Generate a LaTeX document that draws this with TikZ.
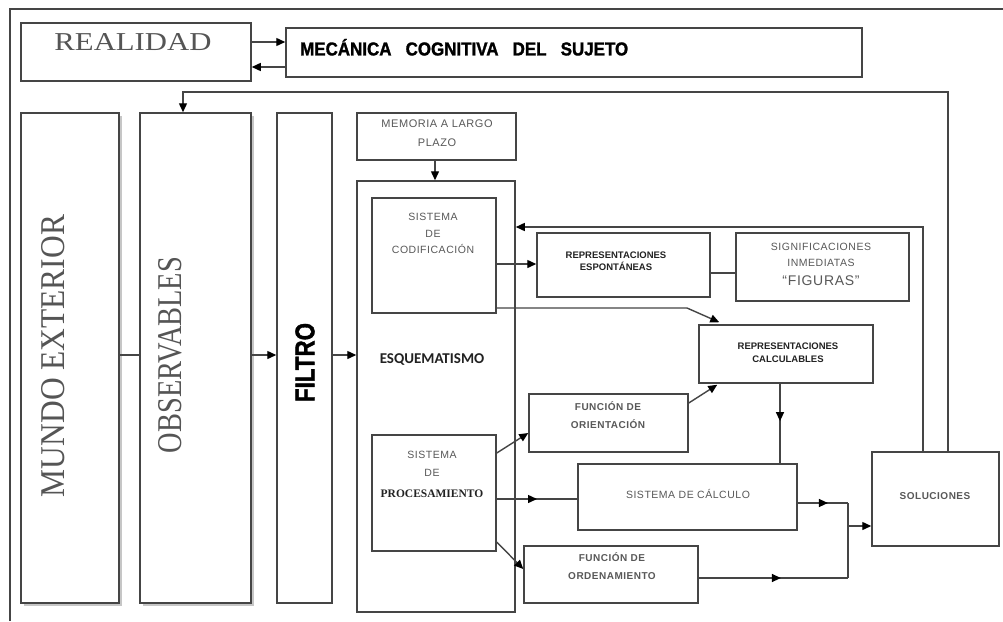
\documentclass[tikz,border=0pt]{standalone}
\usepackage{fontspec}
\usepackage{graphicx}
\setmainfont{Liberation Serif}
\newfontfamily\lab{Liberation Sans}[LetterSpace=5]
\newfontfamily\labn{Liberation Sans}
\newfontfamily\labh{Liberation Sans}[FakeBold=1.5]
\newfontfamily\carl{Carlito}
\usetikzlibrary{arrows.meta,decorations.markings,fit,calc,shadows}
\definecolor{ln}{HTML}{454545}
\definecolor{tx}{HTML}{585858}
\definecolor{dk}{HTML}{222222}
\definecolor{big}{HTML}{555555}
\begin{document}
\begin{tikzpicture}[x=1pt,y=-1pt,
  box/.style={draw=ln, line width=1.5pt, inner sep=0pt, fill=white},
  shbox/.style={box, drop shadow={shadow xshift=2.5pt, shadow yshift=-2.5pt, fill=gray!45, opacity=1}},
  arr/.style={draw=ln, line width=1.4pt, -{Triangle[length=9pt,width=8pt,fill=black,color=black]}},
  con/.style={draw=ln, line width=1.4pt},
  midarr/.style={draw=ln, line width=1.4pt, postaction={decorate},
    decoration={markings, mark=at position #1 with {\arrow{Triangle[length=9pt,width=8pt,fill=black,color=black]}}}},
  midarr/.default=0.55,
  lbl/.style={font=\lab\fontsize{10.5}{16.5}\selectfont, text=tx, align=center, inner sep=0pt},
  lblb/.style={font=\lab\bfseries\fontsize{10}{18}\selectfont, text=tx, align=center, inner sep=0pt},
  lbld/.style={font=\labn\bfseries\fontsize{9.5}{12.5}\selectfont, text=dk, align=center, inner sep=0pt}
]
\useasboundingbox (0,0) rectangle (1003,621);
\fill[white] (0,0) rectangle (1003,621);
% outer frame (top and left edges)
\draw[ln, line width=1.2pt] (10,621) -- (10,9) -- (1003,9);

% boxes
\node[box, fit={(21,23) (251,81)}] (real) {};
\node[box, fit={(286,28) (862,77)}] (mec) {};
\node[shbox, fit={(21,113) (119,603)}] (mundo) {};
\node[shbox, fit={(140,113) (251,603)}] (obs) {};
\node[box, fit={(277,113) (332,603)}] (filtro) {};
\node[box, fit={(357,113) (516,160)}] (mem) {};
\node[box, fit={(357,181) (515,612)}] (esq) {};
\node[box, fit={(372,198) (496,313)}] (cod) {};
\node[box, fit={(537,233) (710,297)}] (repesp) {};
\node[box, fit={(736,233) (909,301)}] (sig) {};
\node[box, fit={(699,325) (873,383)}] (repcalc) {};
\node[box, fit={(529,394) (688,452)}] (orient) {};
\node[box, fit={(372,435) (496,551)}] (proc) {};
\node[box, fit={(578,464) (797,530)}] (calc) {};
\node[box, fit={(524,546) (698,603)}] (orden) {};
\node[box, fit={(872,452) (999,546)}] (sol) {};

% labels
\node[inner sep=0pt, text=big] (realL) at (133,42) {\resizebox{157pt}{17pt}{REALIDAD}};
\node[inner sep=0pt, anchor=west, text=black] (mecL) at (300,49)
  {\resizebox{328pt}{13pt}{\labh\bfseries MEC\smash{Á}NICA\ \ \ COGNITIVA\ \ \ DEL\ \ \ SUJETO}};
\node[inner sep=0pt, rotate=90, text=big] (mundoL) at (53.5,356) {\resizebox{282pt}{23pt}{MUNDO EXTERIOR}};
\node[inner sep=0pt, rotate=90, text=big] (obsL) at (170.5,355) {\resizebox{196pt}{23pt}{OBSERVABLES}};
\node[inner sep=0pt, rotate=90, text=black] (filtroL) at (305,362.5) {\resizebox{79pt}{19pt}{\labh\bfseries FILTRO}};
\node[lbl, font=\lab\fontsize{11}{19}\selectfont] (memL) at (437,133.5) {MEMORIA A LARGO\\PLAZO};
\node[lbl] (codL) at (433,233.5) {SISTEMA\\DE\\CODIFICACIÓN};
\node[lbld] (repespL) at (616,261) {REPRESENTACIONES\\ESPONTÁNEAS};
\node[lbl] (sigL) at (821,264) {SIGNIFICACIONES\\INMEDIATAS\\[2pt]{\fontsize{14}{14}\selectfont “FIGURAS”}};
\node[lbld] (repcalcL) at (788,352.5) {REPRESENTACIONES\\CALCULABLES};
\node[lblb] (orientL) at (608,415) {FUNCIÓN DE\\ORIENTACIÓN};
\node[lbl, font=\lab\fontsize{10.5}{18}\selectfont] (procL) at (432,474.5)
  {SISTEMA\\DE\\[3pt]{\rmfamily\bfseries\fontsize{11.5}{12}\selectfont\color{dk}PROCESAMIENTO}};
\node[inner sep=0pt, text=dk, font=\carl\bfseries\fontsize{15}{15}\selectfont] (esqL) at (432,360) {ESQUEMATISMO};
\node[lbl] (calcL) at (688,494) {SISTEMA DE CÁLCULO};
\node[lblb] (ordenL) at (612,566.5) {FUNCIÓN DE\\ORDENAMIENTO};
\node[lblb] (solL) at (935,496) {SOLUCIONES};

% connectors
\draw[arr] (real.east |- 0,42) -- (mec.west |- 0,42);
\draw[arr] (mec.west |- 0,67) -- (real.east |- 0,67);
\coordinate (fb1) at (948,92);
\coordinate (fb2) at (183,92);
\draw[arr] (sol.north -| fb1) -- (fb1) -- (fb2) -- (obs.north -| fb2);
\coordinate (fb3) at (923,227);
\draw[arr] (sol.north -| fb3) -- (fb3) -- (esq.east |- fb3);
\draw[con] (mundo.east |- 0,355) -- (obs.west |- 0,355);
\draw[arr] (obs.east |- 0,355) -- (filtro.west |- 0,355);
\draw[arr] (filtro.east |- 0,355) -- (esq.west |- 0,355);
\draw[arr] (mem.south -| 435,0) -- (esq.north -| 435,0);
\draw[arr] (cod.east |- 0,264) -- (repesp.west |- 0,264);
\draw[con] (repesp.east |- 0,273) -- (sig.west |- 0,273);
\coordinate (bend) at (687,308);
\draw[arr] (cod.east |- bend) -- (bend) -- ($(repcalc.north west)+(21,-2)$);
\draw[arr] (orient.east |- 0,403) -- ($(repcalc.south west)+(19,1)$);
\draw[arr] (proc.east |- 0,453) -- (orient.west |- 0,433);
\draw[midarr=0.5] (proc.east |- 0,499) -- (calc.west |- 0,499);
\draw[arr] (proc.east |- 0,542) -- (orden.west |- 0,569);
\draw[midarr=0.47] (repcalc.south -| 780,0) -- (calc.north -| 780,0);
\coordinate (jt) at (848,503);
\coordinate (jb) at (848,578);
\coordinate (jm) at (848,526);
\draw[midarr=0.6] (calc.east |- jt) -- (jt);
\draw[con] (jt) -- (jb);
\draw[midarr=0.55] (orden.east |- jb) -- (jb);
\draw[arr] (jm) -- (sol.west |- jm);
\end{tikzpicture}
\end{document}
